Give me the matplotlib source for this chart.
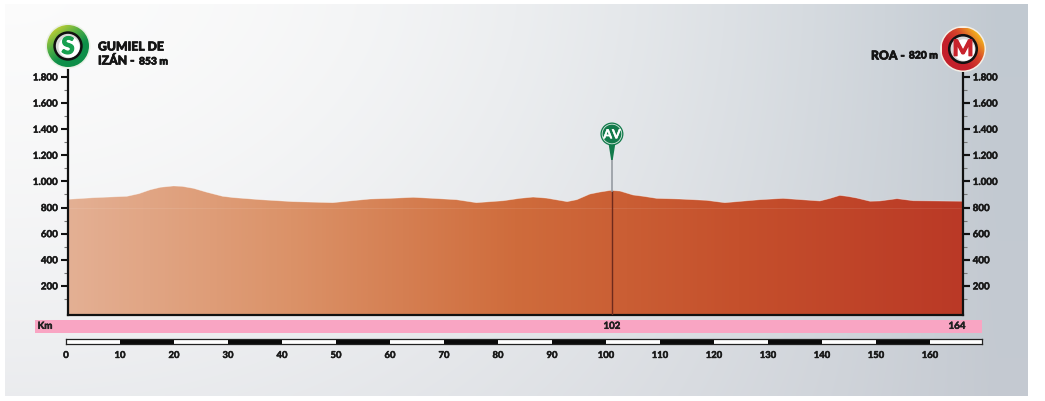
import numpy as np
import matplotlib
matplotlib.use("Agg")
import matplotlib.pyplot as plt
import matplotlib.patheffects as pe
from matplotlib.colors import LinearSegmentedColormap
from matplotlib.patches import Circle, Polygon, Rectangle
from matplotlib.transforms import blended_transform_factory

plt.rcParams['font.family'] = ['Lato', 'DejaVu Sans']

# ---- data ----
km = [0, 5, 11.3, 13.5, 15.6, 17.5, 19.9, 21.5, 23.6, 26, 29, 31, 36, 42, 49.4, 53, 56.3, 60, 64.3, 68,
      72.3, 76, 81, 84, 86.5, 89, 92.8, 94.6, 97, 98.8, 100.8, 102.6, 105, 106.9, 109.4, 113.7, 118.6,
      122, 128.5, 132.8, 139.6, 141.5, 143.3, 144.8, 146.4, 148.9, 150.7, 152.5, 153.9, 156.9, 166]
elevation = [862, 875, 886, 906, 936, 955, 965, 962, 947, 918, 886, 876, 860, 845, 837, 852, 865, 870, 878, 870,
             860, 837, 852, 870, 880, 872, 845, 860, 903, 918, 931, 926, 896, 886, 870, 865, 855,
             837, 860, 870, 850, 870, 893, 885, 873, 848, 850, 860, 868, 852, 848]
y_major = [200, 400, 600, 800, 1000, 1200, 1400, 1600, 1800]
y_labels = ['200', '400', '600', '800', '1.000', '1.200', '1.400', '1.600', '1.800']
y_minor = [100, 300, 500, 700, 900, 1100, 1300, 1500, 1700]
km_ticks = [0, 10, 20, 30, 40, 50, 60, 70, 80, 90, 100, 110, 120, 130, 140, 150, 160]
sprint_km = 101.1
band_km = [101.1, 165.0]
band_labels = ['102', '164']
start_title = ['GUMIEL DE', 'IZÁN -']
start_alt = '853 m'
finish_title = 'ROA -'
finish_alt = '820 m'

W, H = 1045, 402
fig = plt.figure(figsize=(W / 100, H / 100), dpi=100, facecolor='white')
thick = [pe.withStroke(linewidth=0.35, foreground='#141414')]
thick2 = [pe.withStroke(linewidth=0.5, foreground='#141414')]


def rect(x0, y0, x1, y1):
    return [x0 / W, 1 - y1 / H, (x1 - x0) / W, (y1 - y0) / H]


# ---- background panel ----
bg = fig.add_axes([0, 0, 1, 1], zorder=0)
bg.axis('off')
u, v = np.meshgrid(np.linspace(0, 1, 256), np.linspace(0, 1, 128))
corners = np.array([[[0.985, 0.985, 0.985], [0.76, 0.79, 0.82]],
                    [[0.92, 0.925, 0.935], [0.77, 0.79, 0.82]]])
uu = np.clip(u * 1.03, 0, 1) ** 2.0
vv = v ** 1.5
img = ((1 - vv)[..., None] * ((1 - uu)[..., None] * corners[0, 0] + uu[..., None] * corners[0, 1])
       + vv[..., None] * ((1 - uu)[..., None] * corners[1, 0] + uu[..., None] * corners[1, 1]))
bg.imshow(img, extent=(5, 1028, 397, 5), aspect='auto', interpolation='bilinear', zorder=0)
bg.set_xlim(0, W)
bg.set_ylim(H, 0)
bg.add_patch(Rectangle((35, 320.5), 947, 13.5, fc='#F9A5C3', ec='none', zorder=1))

# ---- main profile axes ----
ax = fig.add_axes(rect(67.5, 71, 963, 315.5), zorder=2)
ax.patch.set_alpha(0)
xlim = ((67.5 - 66) / 5.4, (963 - 66) / 5.4)
ylim = (-19, 1853)

cmap = LinearSegmentedColormap.from_list('prof', ['#E4B094', '#DB9268', '#CF6C3C', '#C5502C', '#BA3926'])
poly = ax.fill_between(km, elevation, -20, color='none', lw=0, zorder=1)
grad = ax.imshow(np.linspace(0, 1, 512).reshape(1, -1), cmap=cmap, aspect='auto',
                 extent=(0, 166, -20, 1200), zorder=1)
grad.set_clip_path(poly.get_paths()[0], ax.transData)
ax.set_xlim(*xlim)
ax.set_ylim(*ylim)
ax.plot(km, elevation, color='#FFFFFF', lw=0.5, alpha=0.45, zorder=2)
ax.axhline(800, color='#FFFFFF', lw=0.6, alpha=0.10, zorder=2)
top_at = np.interp(sprint_km, km, elevation)
ax.plot([sprint_km, sprint_km], [-15, top_at], color='#6E2A1C', lw=1.0, zorder=3)
ax.plot([sprint_km, sprint_km], [top_at, 1270], color='#969BA2', lw=1.2, zorder=3)

ax.spines['top'].set_visible(False)
for s in ('left', 'right', 'bottom'):
    ax.spines[s].set_linewidth(1.6)
    ax.spines[s].set_color('#111111')
ax.set_xticks([])
ax.set_yticks(y_major, y_labels)
ax.set_yticks(y_minor, minor=True)
ax.tick_params(axis='y', which='major', left=True, right=True, direction='out', length=5, width=1.5,
               color='#111111', labelsize=7, pad=2)
ax.tick_params(axis='y', which='minor', left=True, right=True, direction='out', length=3, width=0.8,
               color='#777777')
for lab in ax.get_yticklabels():
    lab.set_fontweight('bold')
    lab.set_color('#1A1A1A')
    lab.set_path_effects(thick)
ax_r = ax.secondary_yaxis('right')
ax_r.spines['right'].set_visible(False)
ax_r.set_yticks(y_major, y_labels)
ax_r.tick_params(axis='y', length=5, width=1.5, color='#111111', labelsize=7, pad=2)
for lab in ax_r.get_yticklabels():
    lab.set_fontweight('bold')
    lab.set_color('#1A1A1A')
    lab.set_path_effects(thick)

# ---- km scale bar ----
sc = fig.add_axes(rect(66, 339.5, 982, 345), zorder=2)
x_end = (982 - 66) / 5.4
sc.set_xlim(0, x_end)
sc.set_ylim(0, 1)
for i, k in enumerate(km_ticks):
    nxt = km_ticks[i + 1] if i + 1 < len(km_ticks) else x_end
    sc.barh(0.5, nxt - k, left=k, height=1, align='center',
            color='#0A0A0A' if i % 2 else '#FFFFFF', lw=0)
for s in sc.spines.values():
    s.set_linewidth(0.9)
    s.set_color('#222222')
sc.set_yticks([])
sc.set_xticks(km_ticks, [str(k) for k in km_ticks])
sc.tick_params(axis='x', length=0, labelsize=6.8, pad=5, labelcolor='#1A1A1A')
for lab in sc.get_xticklabels():
    lab.set_fontweight('bold')
    lab.set_path_effects(thick)

# ---- labels on pink band ----
tr = blended_transform_factory(sc.transData, bg.transData)
fig.text(45 / W, 1 - 327.3 / H, 'Km', fontsize=7, fontweight='bold', color='#222222', ha='center', va='center',
         zorder=5, path_effects=thick)
for k, t in zip(band_km, band_labels):
    bg.text(k, 327.3, t, transform=tr, fontsize=7, fontweight='bold', color='#222222', ha='center', va='center',
            zorder=3, path_effects=thick)

# ---- overlay: badges and titles ----
ov = fig.add_axes([0, 0, 1, 1], zorder=4)
ov.axis('off')


def badge(cx, cy, r, colors, angle, letter, letter_col, halo, size):
    ov.add_patch(Circle((cx, cy), r + 1.5, fc=halo, ec='none', zorder=1))
    gx, gy = np.meshgrid(np.linspace(-1, 1, 120), np.linspace(-1, 1, 120))
    a = np.deg2rad(angle)
    t = (gx * np.cos(a) + gy * np.sin(a) + 1) / 2
    cm = LinearSegmentedColormap.from_list('b', colors)
    im = ov.imshow(np.clip(t, 0, 1), cmap=cm, extent=(cx - r, cx + r, cy + r, cy - r),
                   aspect='auto', interpolation='bilinear', zorder=2)
    im.set_clip_path(Circle((cx, cy), r, transform=ov.transData))
    ov.add_patch(Circle((cx, cy), r * 0.70, fc='#111111', ec='none', zorder=3))
    ov.add_patch(Circle((cx, cy), r * 0.58, fc='#D9D9D9', ec='none', zorder=4))
    ov.add_patch(Circle((cx + 1, cy + 1), r * 0.50, fc='#FFFFFF', ec='none', zorder=5))
    ov.text(cx, cy + 0.3, letter, color=letter_col, fontsize=size, fontweight='black', ha='center', va='center',
            zorder=6, path_effects=[pe.withStroke(linewidth=0.8, foreground=letter_col)])


badge(68, 47, 21, ['#B5CB35', '#4FAE45', '#0E8F49', '#0E8F49'], 55, 'S', '#17A04F', '#E9F0E4', 17)
badge(963, 50, 21.5, ['#C4202B', '#C4202B', '#D8472A', '#F2B21E'], -40, 'M', '#C8232C', '#F5EFE6', 16)
ov.set_xlim(0, W)
ov.set_ylim(H, 0)

tc = '#141414'
ov.text(98, 48, start_title[0], fontsize=8.8, fontweight='black', color=tc, ha='left', va='center', path_effects=thick2)
ov.text(98, 62, start_title[1], fontsize=8.8, fontweight='black', color=tc, ha='left', va='center', path_effects=thick2)
ov.text(139, 63, start_alt, fontsize=7.4, fontweight='black', color=tc, ha='left', va='center', path_effects=thick2)
ov.text(871, 57, finish_title, fontsize=8.8, fontweight='black', color=tc, ha='left', va='center', path_effects=thick2)
ov.text(938, 57, finish_alt, fontsize=7.4, fontweight='black', color=tc, ha='right', va='center', path_effects=thick2)

# ---- intermediate sprint marker ----
mx = 66 + sprint_km * 5.4
ov.add_patch(Polygon([[mx - 3.5, 144], [mx + 3.5, 144], [mx + 0.8, 161], [mx - 0.8, 161]], fc='#127A4B', ec='none', zorder=2))
ov.add_patch(Circle((mx, 135), 11.5, fc='#127A4B', ec='none', zorder=3))
ov.add_patch(Circle((mx, 135), 9.8, fc='none', ec='#D8E8DF', lw=0.6, zorder=4))
ov.text(mx, 135.3, 'AV', color='white', fontsize=9, fontweight='bold', ha='center', va='center', zorder=5,
        path_effects=[pe.withStroke(linewidth=0.35, foreground='white')])

fig.savefig('out.png', dpi=100, facecolor='white')
